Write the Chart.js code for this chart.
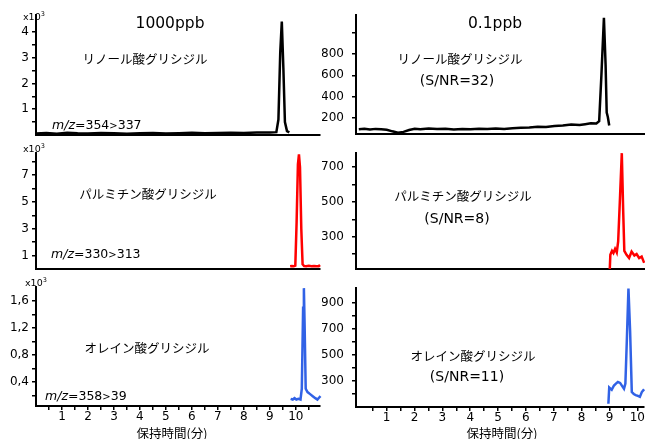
<!DOCTYPE html>
<html>
<head>
<meta charset="utf-8">
<script src="https://cdn.jsdelivr.net/npm/chart.js@4.4.1/dist/chart.umd.min.js"></script>
<style>
body { margin: 0; background: #fff; width: 645px; height: 439px; position: relative; overflow: hidden; font-family: "DejaVu Sans", sans-serif; color: #000; }
canvas { position: absolute; }
.t { position: absolute; white-space: nowrap; transform: translate(-50%, -50%); font-size: 14px; }
.jp { font-family: "Noto Sans CJK JP", sans-serif; font-size: 12.5px; }
.m { position: absolute; white-space: nowrap; transform: translateY(-50%); font-size: 12.5px; }
.m span { font-size: 10px; }
.e { position: absolute; font-size: 9.5px; line-height: 1; }
.e sup { font-size: 6.5px; }
</style>
</head>
<body>
<!-- canvases overlap a little so every plot area gets a fixed margin -->
<canvas id="p1" width="322" height="156" style="left:0;top:-3px"></canvas>
<canvas id="p2" width="323" height="155" style="left:322px;top:-3px"></canvas>
<canvas id="p3" width="322" height="152" style="left:0;top:135px"></canvas>
<canvas id="p4" width="323" height="152" style="left:322px;top:135px"></canvas>
<canvas id="p5" width="322" height="170" style="left:0;top:269px"></canvas>
<canvas id="p6" width="323" height="169" style="left:322px;top:270px"></canvas>

<div class="t" style="left:170px;top:23px;font-size:15.5px">1000ppb</div>
<div class="t" style="left:495px;top:23px;font-size:15.5px">0.1ppb</div>
<div class="e" style="left:23px;top:11px">x10<sup>3</sup></div>
<div class="e" style="left:23px;top:143px">x10<sup>3</sup></div>
<div class="e" style="left:25px;top:277px">x10<sup>3</sup></div>

<div class="t jp" style="left:145px;top:58px">リノール酸グリシジル</div>
<div class="m" style="left:52px;top:124px"><i>m/z</i>=354<span>&gt;</span>337</div>
<div class="t jp" style="left:460px;top:58px">リノール酸グリシジル</div>
<div class="t" style="left:457px;top:80px">(S/NR=32)</div>

<div class="t jp" style="left:148px;top:193px">パルミチン酸グリシジル</div>
<div class="m" style="left:51px;top:253px"><i>m/z</i>=330<span>&gt;</span>313</div>
<div class="t jp" style="left:463px;top:195px">パルミチン酸グリシジル</div>
<div class="t" style="left:457px;top:218px">(S/NR=8)</div>

<div class="t jp" style="left:147px;top:347px">オレイン酸グリシジル</div>
<div class="m" style="left:45px;top:395px"><i>m/z</i>=358<span>&gt;</span>39</div>
<div class="t jp" style="left:473px;top:355px">オレイン酸グリシジル</div>
<div class="t" style="left:467px;top:376px">(S/NR=11)</div>

<div class="t jp" style="left:172px;top:432px">保持時間(分)</div>
<div class="t jp" style="left:502px;top:432px">保持時間(分)</div>

<script>
// retention time (min) / intensity

// 1000ppb linoleic (x10^3)
const tLinoHi = [0, 0.4, 0.8, 1.2, 1.6, 2.0, 2.5, 3.0, 3.5, 4.0, 4.5, 5.0, 5.5, 6.0, 6.5, 7.0, 7.5, 8.0, 8.5, 9.0, 9.25, 9.33, 9.4, 9.46, 9.52, 9.58, 9.66, 9.75];
const yLinoHi = [0.06, 0.08, 0.05, 0.09, 0.07, 0.06, 0.08, 0.07, 0.05, 0.07, 0.08, 0.06, 0.07, 0.09, 0.07, 0.08, 0.09, 0.08, 0.1, 0.1, 0.11, 0.6, 3.2, 4.4, 2.6, 0.5, 0.15, 0.1];

// 0.1ppb linoleic
const tLinoLo = [0, 0.2, 0.4, 0.6, 0.8, 1.0, 1.2, 1.4, 1.6, 1.8, 2.0, 2.2, 2.5, 2.8, 3.1, 3.4, 3.7, 4.0, 4.3, 4.6, 4.9, 5.2, 5.5, 5.8, 6.1, 6.4, 6.7, 7.0, 7.3, 7.6, 7.9, 8.1, 8.3, 8.5, 8.6, 8.68, 8.77, 8.83, 8.87, 8.91, 8.96];
const yLinoLo = [95, 100, 92, 98, 95, 90, 75, 62, 70, 88, 100, 95, 102, 96, 100, 93, 98, 95, 100, 96, 102, 98, 105, 108, 112, 118, 115, 125, 130, 138, 135, 142, 150, 148, 170, 600, 1140, 700, 250, 210, 130];

// 1000ppb palmitic (x10^3)
const tPalmHi = [9.78, 9.85, 9.92, 9.98, 10.03, 10.08, 10.12, 10.16, 10.21, 10.26, 10.32, 10.4, 10.5, 10.6, 10.7, 10.8, 10.88, 10.93];
const yPalmHi = [0.2, 0.22, 0.2, 0.25, 3.5, 7.8, 8.55, 7.6, 3.0, 0.35, 0.22, 0.2, 0.24, 0.2, 0.22, 0.2, 0.21, 0.3];

// 0.1ppb palmitic
const tPalmLo = [8.98, 9.0, 9.06, 9.11, 9.17, 9.23, 9.28, 9.35, 9.41, 9.46, 9.5, 9.58, 9.67, 9.76, 9.86, 9.94, 10.03, 10.12, 10.21];
const yPalmLo = [115, 196, 219, 207, 231, 210, 273, 543, 780, 446, 219, 196, 178, 215, 192, 201, 178, 186, 150];

// 1000ppb oleic (x10^3)
const tOleHi = [9.8, 9.88, 9.95, 10.02, 10.1, 10.18, 10.23, 10.28, 10.31, 10.34, 10.38, 10.45, 10.55, 10.65, 10.75, 10.83, 10.9, 10.95];
const yOleHi = [0.15, 0.14, 0.16, 0.14, 0.15, 0.14, 0.3, 1.5, 1.79, 1.2, 0.3, 0.25, 0.22, 0.19, 0.16, 0.14, 0.17, 0.19];

// 0.1ppb oleic
const tOleLo = [8.96, 8.99, 9.08, 9.16, 9.23, 9.3, 9.38, 9.45, 9.52, 9.57, 9.62, 9.68, 9.74, 9.8, 9.87, 9.94, 10.02, 10.09, 10.16, 10.24];
const yOleLo = [125, 250, 232, 265, 280, 292, 285, 262, 240, 280, 600, 1010, 680, 215, 200, 192, 185, 178, 215, 236];

// axis ticks and which of them get a label
const yTicks1 = [0.5, 1, 1.5, 2, 2.5, 3, 3.5, 4];
const yLabels1 = [1, 2, 3, 4];
const yTicks2 = [200, 400, 600, 800, 1000];
const yLabels2 = [200, 400, 600, 800];
const yTicks3 = [1, 2, 3, 4, 5, 6, 7, 8];
const yLabels3 = [1, 3, 5, 7];
const yTicks4 = [200, 300, 400, 500, 600, 700];
const yLabels4 = [300, 500, 700];
const yTicks5 = [0.2, 0.4, 0.6, 0.8, 1.0, 1.2, 1.4, 1.6];
const yLabels5 = [0.4, 0.8, 1.2, 1.6];
const yTicks6 = [200, 300, 400, 500, 600, 700, 800, 900];
const yLabels6 = [300, 500, 700, 900];
const xTicksL = [0.5, 1, 1.5, 2, 2.5, 3, 3.5, 4, 4.5, 5, 5.5, 6, 6.5, 7, 7.5, 8, 8.5, 9, 9.5, 10, 10.5];
const xTicksR = [0.5, 1, 1.5, 2, 2.5, 3, 3.5, 4, 4.5, 5, 5.5, 6, 6.5, 7, 7.5, 8, 8.5, 9, 9.5, 10];
const xLabels = [1, 2, 3, 4, 5, 6, 7, 8, 9, 10];

const BLACK = '#000000', RED = '#ff0000', BLUE = '#3162e6';

function makePanel(id, times, vals, color, o) {
    const pts = times.map((t, i) => ({ x: t, y: vals[i] }));
    const tickFont = { family: 'DejaVu Sans', size: 12 };
    return new Chart(document.getElementById(id), {
        type: 'line',
        data: { datasets: [{ data: pts, borderColor: color, borderWidth: 2.5, pointRadius: 0, tension: 0, fill: false, clip: 4 }] },
        options: {
            responsive: false,
            animation: false,
            events: [],
            layout: { padding: { top: o.padTop, right: o.padRight, left: 0, bottom: 0 } },
            plugins: { legend: { display: false }, tooltip: { enabled: false } },
            scales: {
                x: {
                    type: 'linear',
                    min: o.xMin,
                    max: o.xMax,
                    border: { display: true, color: '#000', width: 2 },
                    grid: { display: o.bottom, drawOnChartArea: false, drawTicks: true, tickLength: 4, color: '#000', lineWidth: 1.5 },
                    ticks: {
                        display: o.bottom, color: '#000', font: tickFont, padding: 0, maxRotation: 0, autoSkip: false,
                        callback: v => xLabels.includes(v) ? String(v) : ''
                    },
                    afterBuildTicks: s => { s.ticks = o.xTicks.map(v => ({ value: v })); },
                    afterFit: s => { s.height = o.xH; }
                },
                y: {
                    min: o.yMin,
                    max: o.yMax,
                    border: { display: true, color: '#000', width: 2 },
                    grid: { drawOnChartArea: false, drawTicks: true, tickLength: 4, color: '#000', lineWidth: 1.5 },
                    ticks: {
                        color: '#000', font: tickFont, padding: o.yPad, autoSkip: false,
                        callback: v => o.yLabels.includes(v) ? String(v).replace('.', ',') : ''
                    },
                    afterBuildTicks: s => { s.ticks = o.yTicks.map(v => ({ value: v })); },
                    afterFit: s => { s.width = o.yW; }
                }
            }
        }
    });
}

const left = { padRight: 2, xMin: 0, xMax: 10.93, xTicks: xTicksL, yW: 36, yPad: 3 };
const right = { padRight: 0, xMin: -0.1, xMax: 10.24, xTicks: xTicksR, yW: 34, yPad: 8 };

makePanel('p1', tLinoHi, yLinoHi, BLACK, { ...left, padTop: 18, xH: 18, bottom: false, yMin: 0, yMax: 4.65, yTicks: yTicks1, yLabels: yLabels1 });
makePanel('p2', tLinoLo, yLinoLo, BLACK, { ...right, padTop: 18, xH: 18, bottom: false, yMin: 50, yMax: 1166, yTicks: yTicks2, yLabels: yLabels2 });
makePanel('p3', tPalmHi, yPalmHi, RED, { ...left, padTop: 18, xH: 18, bottom: false, yMin: 0, yMax: 8.65, yTicks: yTicks3, yLabels: yLabels3 });
makePanel('p4', tPalmLo, yPalmLo, RED, { ...right, padTop: 18, xH: 18, bottom: false, yMin: 115, yMax: 781, yTicks: yTicks4, yLabels: yLabels4 });
makePanel('p5', tOleHi, yOleHi, BLUE, { ...left, padTop: 18, xH: 33, bottom: true, yMin: 0.044, yMax: 1.807, yTicks: yTicks5, yLabels: yLabels5 });
makePanel('p6', tOleLo, yOleLo, BLUE, { ...right, padTop: 18, xH: 32, bottom: true, yMin: 100, yMax: 1015, yTicks: yTicks6, yLabels: yLabels6 });
</script>
</body>
</html>
